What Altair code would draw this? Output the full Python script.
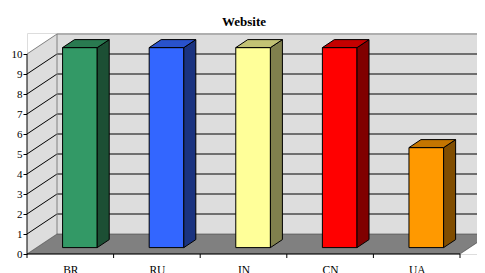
import altair as alt
import pandas as pd

# ---- data ----
categories = ["BR", "RU", "IN", "CN", "UA"]
values = [10, 10, 10, 10, 5]
front_colors = ["#339966", "#3366ff", "#ffff99", "#ff0000", "#ff9900"]
top_colors = ["#297a50", "#2952cc", "#c2c274", "#c40000", "#c47500"]
side_colors = ["#1c4f34", "#1a3380", "#80804d", "#800000", "#804d00"]
y_ticks = list(range(0, 11))
title_text = "Website"

# ---- geometry (in data units of the scales) ----
W, H = 450, 221
CAT_PX = 86.6
N = len(categories)
YMAX = max(y_ticks)
XEND = W / CAT_PX
YEND = 11.05
DX = 30 / CAT_PX       # depth of the 3D box along x
DY = 20 / (H / YEND)   # depth of the 3D box along y
BS = 0.32              # bars start at this fraction of depth
BD = 0.40              # bar depth as a fraction of box depth
HW = 0.20              # half bar width in category units

xs = alt.Scale(domain=[0, XEND], nice=False, zero=False)
ys = alt.Scale(domain=[0, YEND], nice=False, zero=False)

label_expr = "[" + ",".join("'%s'" % c for c in categories) + "][floor(datum.value)]"
AX = alt.Axis(values=[i + 0.5 for i in range(N)], labelExpr=label_expr,
              ticks=False, tickSize=0, domain=False, grid=False,
              labelPadding=10, labelFont="Liberation Serif",
              labelFontSize=11.5, labelColor="black", title=None,
              labelAngle=0)
AY = alt.Axis(values=y_ticks, tickSize=4, tickColor="black",
              labelPadding=1, domain=False, grid=False,
              labelFont="Liberation Serif", labelFontSize=11,
              labelColor="black", title=None)


def X(f):
    return alt.X(f, type="quantitative", scale=xs, axis=AX)


def Y(f):
    return alt.Y(f, type="quantitative", scale=ys, axis=AY)


# walls
back_df = pd.DataFrame([{"x": DX, "x2": XEND, "y": DY, "y2": YMAX + DY}])
back = alt.Chart(back_df).mark_rect(color="#dddddd").encode(
    x=X("x"), x2="x2", y=Y("y"), y2="y2")

side_df = pd.DataFrame([{"x": 0, "lo": 0, "hi": YMAX},
                        {"x": DX, "lo": DY, "hi": YMAX + DY}])
side = alt.Chart(side_df).mark_area(orient="vertical", color="#dddddd").encode(
    x=X("x"), y=Y("lo"), y2="hi")

# gridlines (black) on back and side walls
grid_rows = []
for v in y_ticks[1:-1]:
    grid_rows.append({"x": DX, "x2": XEND, "y": v + DY, "y2": v + DY})
    grid_rows.append({"x": 0, "x2": DX, "y": v, "y2": v + DY})
grid = alt.Chart(pd.DataFrame(grid_rows)).mark_rule(
    color="black", strokeWidth=1, clip=True).encode(
    x=X("x"), x2="x2", y=Y("y"), y2="y2")

# wall edges (gray)
edge_rows = [
    {"x": DX, "x2": XEND, "y": YMAX + DY, "y2": YMAX + DY},
    {"x": 0, "x2": DX, "y": YMAX, "y2": YMAX + DY},
    {"x": DX, "x2": DX, "y": DY, "y2": YMAX + DY},
]
edges = alt.Chart(pd.DataFrame(edge_rows)).mark_rule(
    color="#808080", strokeWidth=1, clip=True).encode(
    x=X("x"), x2="x2", y=Y("y"), y2="y2")

# floor
floor_df = pd.DataFrame([{"y": 0, "lo": 0, "hi": N},
                         {"y": DY, "lo": DX, "hi": N + DX}])
floor = alt.Chart(floor_df).mark_area(
    orient="horizontal", color="#808080", stroke="#404040", strokeWidth=0.6,
    clip=True).encode(y=Y("y"), x=X("lo"), x2="hi")

# front axis lines and category ticks
axis_rows = [{"x": 0, "x2": 0, "y": 0, "y2": YMAX},
             {"x": 0, "x2": N, "y": 0, "y2": 0}]
for i in range(N + 1):
    axis_rows.append({"x": i, "x2": i, "y": 0, "y2": -4 * YEND / H})
axis_lines = alt.Chart(pd.DataFrame(axis_rows)).mark_rule(
    color="black", strokeWidth=1).encode(
    x=X("x"), x2="x2", y=Y("y"), y2="y2")

# bars
front_rows, side_rows, top_rows = [], [], []
for i, (c, v) in enumerate(zip(categories, values)):
    cx = i + 0.5 + BS * DX
    x0, x1 = cx - HW, cx + HW
    yb = BS * DY
    yt = v + BS * DY
    ddx, ddy = BD * DX, BD * DY
    front_rows.append({"cat": c, "x0": x0, "x1": x1, "yb": yb, "yt": yt,
                       "fill": front_colors[i]})
    side_rows.append({"cat": c, "x": x1, "lo": yb, "hi": yt,
                      "fill": side_colors[i]})
    side_rows.append({"cat": c, "x": x1 + ddx, "lo": yb + ddy, "hi": yt + ddy,
                      "fill": side_colors[i]})
    top_rows.append({"cat": c, "y": yt, "lo": x0, "hi": x1,
                     "fill": top_colors[i]})
    top_rows.append({"cat": c, "y": yt + ddy, "lo": x0 + ddx, "hi": x1 + ddx,
                     "fill": top_colors[i]})

bar_front = alt.Chart(pd.DataFrame(front_rows)).mark_rect(
    stroke="black", strokeWidth=1).encode(
    x=X("x0"), x2="x1", y=Y("yb"), y2="yt",
    fill=alt.Fill("fill:N", scale=None))

bar_side = alt.Chart(pd.DataFrame(side_rows)).mark_area(
    orient="vertical", stroke="black", strokeWidth=1).encode(
    x=X("x"), y=Y("lo"), y2="hi", detail="cat:N",
    fill=alt.Fill("fill:N", scale=None))

bar_top = alt.Chart(pd.DataFrame(top_rows)).mark_area(
    orient="horizontal", stroke="black", strokeWidth=1).encode(
    y=Y("y"), x=X("lo"), x2="hi", detail="cat:N",
    fill=alt.Fill("fill:N", scale=None))

chart = alt.layer(
    back, side, grid, edges, floor, axis_lines, bar_front, bar_side, bar_top
).properties(
    width=W, height=H,
    autosize=alt.AutoSizeParams(type="none"),
    padding={"left": 19, "top": 25, "right": 0, "bottom": 19},
    title=alt.TitleParams(text=title_text, font="Liberation Serif", fontSize=13,
                          fontWeight="bold", color="black", anchor="middle",
                          frame="bounds", offset=4),
).configure_view(stroke=None).configure(background="white")

chart.save("out.html", embed_options={"renderer": "svg", "actions": False})
